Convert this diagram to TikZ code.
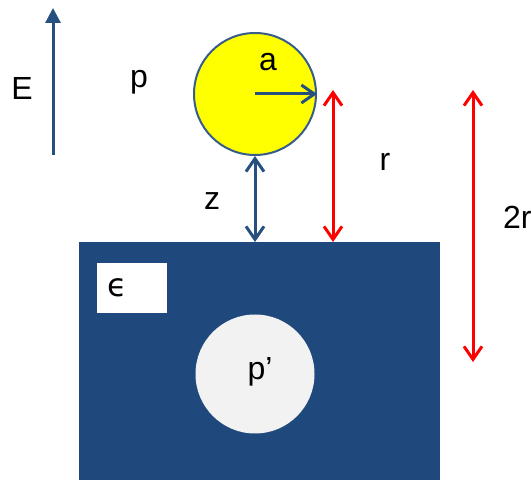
\documentclass[tikz,border=0pt]{standalone}
\usepackage{fontspec}
\setmainfont{Liberation Sans}
\newfontfamily\epsfont{DejaVu Sans}
\usetikzlibrary{calc,arrows.meta}
\usetikzlibrary{positioning}
\definecolor{fig-slab}{HTML}{1F497D}
\definecolor{fig-arrow}{HTML}{26507F}
\definecolor{fig-edge}{HTML}{385D8A}
\definecolor{fig-ball}{HTML}{FFFF00}
\definecolor{fig-image}{HTML}{F2F2F2}
\definecolor{fig-red}{HTML}{FF0000}
\tikzset{lbl/.style={font=\fontsize{32}{38}\selectfont, inner sep=0pt}}

\begin{document}
\begin{tikzpicture}[
    x=1pt, y=-1pt,
    >={Straight Barb[length=13pt,width=18pt]}
  ]

  % Styles for the sphere, its image and the half-space
  \tikzset{
    ball/.style={circle, draw=fig-edge, line width=2pt, fill=fig-ball, minimum size=122pt, inner sep=0pt},
    imageball/.style={circle, fill=fig-image, minimum size=119pt, inner sep=0pt},
    slab/.style={rectangle, fill=fig-slab, minimum width=361pt, minimum height=238pt, inner sep=0pt, anchor=north west},
    epsbox/.style={rectangle, fill=white, minimum width=70pt, minimum height=50pt, inner sep=0pt, anchor=north west},
    bluearrow/.style={<->, fig-arrow, line width=3pt},
    redarrow/.style={<->, fig-red, line width=3pt}
  }

  \useasboundingbox (0,0) rectangle (531,481);

  % Sphere above the dielectric
  \node (sphere) [ball] at (255,94) {};
  \node (slab)   [slab] at (79,242) {};
  \node (epsbox) [epsbox] at (97,263) {};
  \node (image)  [imageball] at (255,374) {};

  % Labels
  \node (Elabel)    [lbl] at (22,88) {E};
  \node (plabel)    [lbl] at (139,82) {p};
  \node (alabel)    [lbl] at ($(sphere.center)+(13,-32)$) {a};
  \node (zlabel)    [lbl] at (212,201) {z};
  \node (rlabel)    [lbl] at (385,162) {r};
  \node (tworlabel) [lbl, anchor=west] at (503,217) {2r};
  \node (epslabel)  [lbl, right=10pt of epsbox.west] {\epsfont ϵ};
  \node (pimage)    [lbl] at ($(image.center)+(5,-2)$) {p’};

  % Field and distances
  \coordinate (Etail) at (53,155);
  \coordinate (Etip) at (53,8);
  \draw[-{Triangle[length=15pt,width=15pt]}, fig-arrow, line width=3pt] (Etail) -- (Etip);
  \draw[->, fig-arrow, line width=3pt] (sphere.center) -- (sphere.east);
  \draw[bluearrow] (sphere.south) -- (sphere.south |- slab.north);

  \coordinate (rtop) at (333,90);
  \draw[redarrow] (rtop) -- (rtop |- slab.north);
  \coordinate (twortop) at (473,90);
  \coordinate (tworbottom) at (473,362);
  \draw[redarrow] (twortop) -- (tworbottom);

\end{tikzpicture}
\end{document}
